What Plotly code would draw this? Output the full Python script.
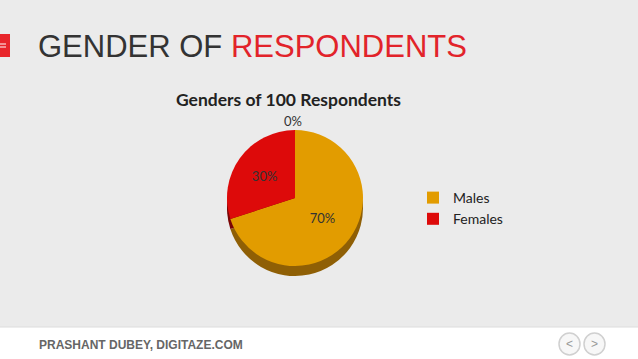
import plotly.graph_objects as go

# ---- data ----
categories = ["Males", "Females"]
values = [70, 30]
other_value = 0          # the unnamed 0% slice shown only as a label
colors_top = ["#e29c00", "#dd0a0a"]
colors_side = ["#8f5f05", "#7a0505"]

W, H = 638, 359
def px(x):
    return x / W
def py(y):
    return 1 - y / H

total = sum(values) + other_value

# pie geometry (pixels)
cx, cy, d, depth = 295, 198, 136, 10

fig = go.Figure()

# side / depth of the 3D-looking pie
fig.add_trace(go.Pie(
    labels=[c + " side" for c in categories],
    values=values,
    marker=dict(colors=colors_side, line=dict(width=0)),
    sort=False, direction="clockwise", rotation=0,
    textinfo="none", hoverinfo="skip", showlegend=False,
    domain=dict(x=[px(cx - d / 2), px(cx + d / 2)],
                y=[py(cy + d / 2 + depth), py(cy - d / 2 + depth)]),
))

# top face
fig.add_trace(go.Pie(
    labels=categories,
    values=values,
    marker=dict(colors=colors_top, line=dict(width=0)),
    sort=False, direction="clockwise", rotation=0,
    texttemplate="%{percent:.0%}",
    textposition="inside", insidetextorientation="horizontal",
    textfont=dict(family="Lato", size=13, color="#333333"),
    domain=dict(x=[px(cx - d / 2), px(cx + d / 2)],
                y=[py(cy + d / 2), py(cy - d / 2)]),
))

shapes = [
    # footer white band
    dict(type="rect", xref="paper", yref="paper", x0=0, x1=1, y0=0, y1=py(327),
         fillcolor="#ffffff", line=dict(width=0), layer="below"),
    dict(type="line", xref="paper", yref="paper", x0=0, x1=1, y0=py(327), y1=py(327),
         line=dict(color="#dcdcdc", width=1)),
    # red marker square top-left
    dict(type="rect", xref="paper", yref="paper", x0=0, x1=px(10), y0=py(57), y1=py(34),
         fillcolor="#e8262b", line=dict(width=0)),
    dict(type="line", xref="paper", yref="paper", x0=0, x1=px(6), y0=py(44), y1=py(44),
         line=dict(color="#ffffff", width=1)),
    dict(type="line", xref="paper", yref="paper", x0=0, x1=px(6), y0=py(47), y1=py(47),
         line=dict(color="#ffffff", width=1)),
    # nav circles
    dict(type="circle", xref="paper", yref="paper", x0=px(559), x1=px(580), y0=py(355), y1=py(333),
         fillcolor="#f7f7f7", line=dict(color="#d0d0d0", width=1.5)),
    dict(type="circle", xref="paper", yref="paper", x0=px(584), x1=px(605), y0=py(355), y1=py(333),
         fillcolor="#f7f7f7", line=dict(color="#d0d0d0", width=1.5)),
]

annotations = [
    dict(text="GENDER OF <span style='color:#e2232a'>RESPONDENTS</span>",
         x=px(36), y=py(46), xref="paper", yref="paper", xanchor="left", yanchor="middle",
         showarrow=False, font=dict(family="Liberation Sans", size=31, color="#333333")),
    dict(text="<b>Genders of 100 Respondents</b>", x=px(288), y=py(99), xref="paper", yref="paper",
         xanchor="center", yanchor="middle",
         showarrow=False, font=dict(family="Lato", size=17.5, color="#222222")),
    dict(text=f"{other_value / total:.0%}", x=px(293), y=py(121), xref="paper", yref="paper",
         xanchor="center", yanchor="middle",
         showarrow=False, font=dict(family="Lato", size=13, color="#333333")),
    dict(text="<b>PRASHANT DUBEY, DIGITAZE.COM</b>", x=px(37), y=py(345), xref="paper", yref="paper",
         xanchor="left", yanchor="middle",
         showarrow=False, font=dict(family="Liberation Sans", size=12, color="#666666")),
    dict(text="<", x=px(569.5), y=py(344), xref="paper", yref="paper", showarrow=False,
         xanchor="center", yanchor="middle",
         font=dict(family="Liberation Sans", size=12, color="#999999")),
    dict(text=">", x=px(594.5), y=py(344), xref="paper", yref="paper", showarrow=False,
         xanchor="center", yanchor="middle",
         font=dict(family="Liberation Sans", size=12, color="#999999")),
]

fig.update_layout(
    width=W, height=H,
    margin=dict(l=0, r=0, t=0, b=0),
    paper_bgcolor="#ebebeb", plot_bgcolor="#ebebeb",
    shapes=shapes, annotations=annotations,
    legend=dict(x=px(413), y=py(182), xanchor="left", yanchor="top",
                font=dict(family="Lato", size=14, color="#222222"),
                bgcolor="rgba(0,0,0,0)", itemclick=False),
)

fig.write_html("out.html", config={"displayModeBar": False},
               post_script="document.body.style.margin='0';document.body.style.overflow='hidden';")
